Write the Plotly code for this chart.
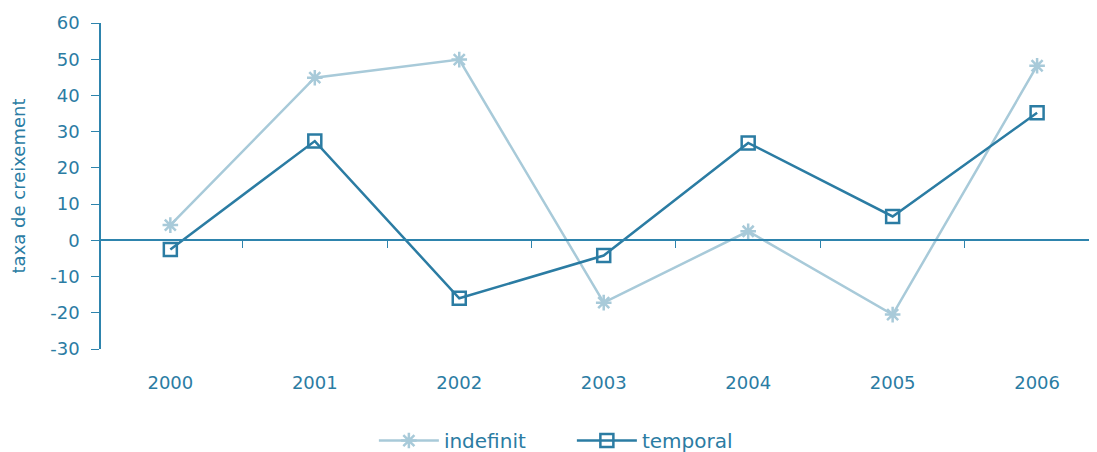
import plotly.graph_objects as go

years = ["2000", "2001", "2002", "2003", "2004", "2005", "2006"]
indefinit = [4.2, 44.9, 49.9, -17.2, 2.5, -20.5, 48.2]
temporal = [-2.5, 27.4, -16.0, -4.2, 26.9, 6.6, 35.2]
y_ticks = [-30, -20, -10, 0, 10, 20, 30, 40, 50, 60]
y_tick_labels = ["-30", "-20", "-10", "0", "10", "20", "30", "40", "50", "60"]

light = "#a8cad9"
dark = "#2b7ca3"
axis_col = "#2e84ad"
font_fam = "DejaVu Sans, sans-serif"

fig = go.Figure()
fig.add_trace(go.Scatter(x=years, y=indefinit, name="indefinit", mode="lines+markers",
                         line=dict(color=light, width=2.5),
                         marker=dict(symbol="asterisk-open", size=13, line=dict(color=light, width=2.5))))
fig.add_trace(go.Scatter(x=years, y=temporal, name="temporal", mode="lines+markers",
                         line=dict(color=dark, width=2.5),
                         marker=dict(symbol="square-open", size=13, color=dark, line=dict(color=dark, width=2.5))))
# helper trace so the zero axis (xaxis2) is drawn
fig.add_trace(go.Scatter(x=years, y=[0]*len(years), xaxis="x2", mode="lines",
                         line=dict(width=0), showlegend=False, hoverinfo="skip"))

xr = [-0.48, 6.47]
fig.update_layout(
    width=1097, height=452,
    margin=dict(l=93, r=0, t=15, b=111, autoexpand=False),
    paper_bgcolor="white", plot_bgcolor="white",
    font=dict(family=font_fam, color=dark, size=18),
    xaxis=dict(type="category", range=xr, showline=False, showgrid=False, zeroline=False,
               ticks="", ticklabelstandoff=21, automargin=False,
               tickfont=dict(size=18, color=dark)),
    xaxis2=dict(type="category", range=xr, overlaying="x", anchor="free", position=1/3,
                showline=True, linecolor=axis_col, linewidth=1.5, showgrid=False,
                ticks="outside", tickson="boundaries", ticklen=7, tickcolor=axis_col,
                showticklabels=False, automargin=False),
    yaxis=dict(range=[-30, 60], tickvals=y_ticks, ticktext=y_tick_labels,
               showgrid=False, zeroline=False, automargin=False,
               showline=True, linecolor=axis_col, linewidth=1.5,
               ticks="outside", ticklen=8, tickcolor=axis_col, ticklabelstandoff=8,
               tickfont=dict(size=18, color=dark),
               title=dict(text="taxa de creixement", font=dict(size=18, color=dark), standoff=24)),
    legend=dict(orientation="h", x=0.469, xanchor="center", yref="container", y=0.043, yanchor="middle",
                font=dict(size=20, color=dark), itemwidth=60, entrywidth=123),
)

fig.write_html("out.html")
